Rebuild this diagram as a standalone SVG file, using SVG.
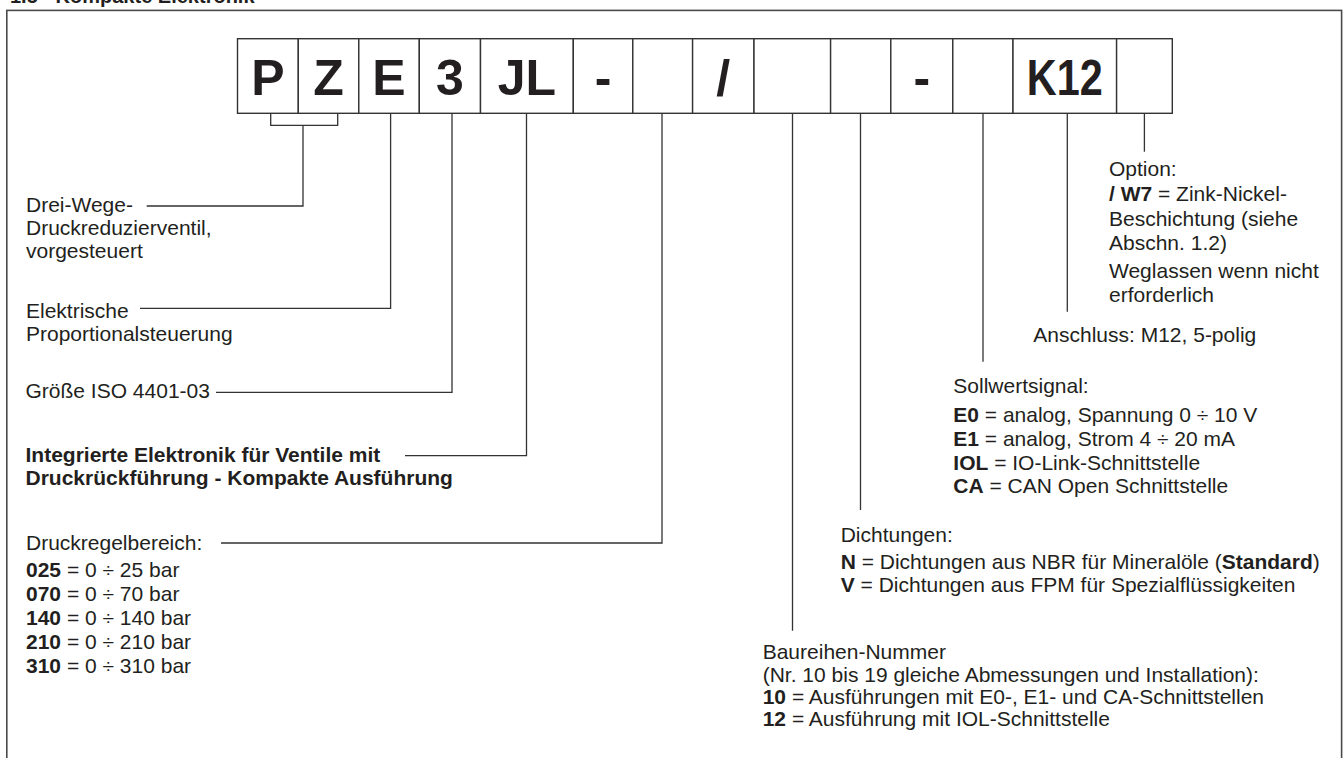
<svg xmlns="http://www.w3.org/2000/svg" width="1344" height="758" viewBox="0 0 1344 758">
<style>
  .bg{fill:#ffffff}
  .frame{fill:none;stroke:#4a4a4a;stroke-width:1.6}
  .box{fill:#ffffff;stroke:#333333;stroke-width:1.4}
  .code{font-family:"Liberation Sans",Arial,sans-serif;font-weight:bold;font-size:50px;fill:#231f20;text-anchor:middle}
  .t{font-family:"Liberation Sans",Arial,sans-serif;font-size:21px;fill:#231f20}
  .b{font-weight:bold}
  .title{font-family:"Liberation Sans",Arial,sans-serif;font-size:20px;font-weight:bold;fill:#231f20}
  .conn{fill:none;stroke:#333333;stroke-width:1.3}
</style>
<rect class="bg" x="0" y="0" width="1344" height="758"/>
<text class="title" x="10" y="3">1.5 - Kompakte Elektronik</text>
<rect class="frame" x="6.8" y="10.4" width="1334.8" height="800"/>

<g id="code-boxes">
  <g id="box-P"><rect class="box" x="237.5" y="38.7" width="60.8" height="74.6"/><text class="code" x="267.9" y="95">P</text></g>
  <g id="box-Z"><rect class="box" x="298.3" y="38.7" width="60.5" height="74.6"/><text class="code" x="328.5" y="95">Z</text></g>
  <g id="box-E"><rect class="box" x="358.8" y="38.7" width="60.5" height="74.6"/><text class="code" x="389" y="95">E</text></g>
  <g id="box-3"><rect class="box" x="419.3" y="38.7" width="61.2" height="74.6"/><text class="code" x="449.9" y="95">3</text></g>
  <g id="box-JL"><rect class="box" x="480.5" y="38.7" width="92.8" height="74.6"/><text class="code" x="526.9" y="95">JL</text></g>
  <g id="box-dash1"><rect class="box" x="573.3" y="38.7" width="59.5" height="74.6"/><text class="code" x="603" y="95">-</text></g>
  <g id="box-pressure"><rect class="box" x="632.8" y="38.7" width="59.8" height="74.6"/></g>
  <g id="box-slash"><rect class="box" x="692.6" y="38.7" width="61.4" height="74.6"/><text class="code" x="723.3" y="95">/</text></g>
  <g id="box-series"><rect class="box" x="754" y="38.7" width="76.6" height="74.6"/></g>
  <g id="box-seals"><rect class="box" x="830.6" y="38.7" width="60.2" height="74.6"/></g>
  <g id="box-dash2"><rect class="box" x="890.8" y="38.7" width="62" height="74.6"/><text class="code" x="921.8" y="95">-</text></g>
  <g id="box-signal"><rect class="box" x="952.8" y="38.7" width="60.2" height="74.6"/></g>
  <g id="box-K12"><rect class="box" x="1013" y="38.7" width="103.6" height="74.6"/><text class="code" x="1064.8" y="95" textLength="76" lengthAdjust="spacingAndGlyphs">K12</text></g>
  <g id="box-option"><rect class="box" x="1116.6" y="38.7" width="55.7" height="74.6"/></g>
</g>

<g id="connectors">
  <path class="conn" d="M270.7,113.3 V125.3 H337.7 V113.3"/>
  <path class="conn" d="M303,125.3 V206 H146.7"/>
  <path class="conn" d="M390.6,113.3 V308.3 H140"/>
  <path class="conn" d="M452,113.3 V392.3 H216"/>
  <path class="conn" d="M526.5,113.3 V455.7 H405"/>
  <path class="conn" d="M662,113.3 V543 H221"/>
  <path class="conn" d="M792.5,113.3 V630.7"/>
  <path class="conn" d="M860.5,113.3 V510"/>
  <path class="conn" d="M983,113.3 V361.7"/>
  <path class="conn" d="M1067.3,113.3 V311.7"/>
  <path class="conn" d="M1144.4,113.3 V151.7"/>
</g>

<g id="label-valve" class="t">
  <text x="26" y="211.7">Drei-Wege-</text>
  <text x="26" y="235">Druckreduzierventil,</text>
  <text x="26" y="258">vorgesteuert</text>
</g>
<g id="label-control" class="t">
  <text x="26" y="317.7">Elektrische</text>
  <text x="26" y="340.5">Proportionalsteuerung</text>
</g>
<g id="label-size" class="t">
  <text x="25.5" y="398.3">Größe ISO 4401-03</text>
</g>
<g id="label-electronics" class="t b">
  <text x="25.5" y="461.7">Integrierte Elektronik für Ventile mit</text>
  <text x="25.5" y="485">Druckrückführung - Kompakte Ausführung</text>
</g>
<g id="label-pressure" class="t">
  <text x="26" y="550">Druckregelbereich:</text>
  <text x="26" y="577.3"><tspan class="b">025</tspan> = 0 ÷ 25 bar</text>
  <text x="26" y="601.3"><tspan class="b">070</tspan> = 0 ÷ 70 bar</text>
  <text x="26" y="625.3"><tspan class="b">140</tspan> = 0 ÷ 140 bar</text>
  <text x="26" y="649.3"><tspan class="b">210</tspan> = 0 ÷ 210 bar</text>
  <text x="26" y="673.3"><tspan class="b">310</tspan> = 0 ÷ 310 bar</text>
</g>
<g id="label-series" class="t">
  <text x="762.7" y="659.3">Baureihen-Nummer</text>
  <text x="762.7" y="681.7">(Nr. 10 bis 19 gleiche Abmessungen und Installation):</text>
  <text x="762.7" y="704.3"><tspan class="b">10</tspan> = Ausführungen mit E0-, E1- und CA-Schnittstellen</text>
  <text x="762.7" y="726"><tspan class="b">12</tspan> = Ausführung mit IOL-Schnittstelle</text>
</g>
<g id="label-seals" class="t">
  <text x="840.7" y="541.7">Dichtungen:</text>
  <text x="840.7" y="569.3"><tspan class="b">N</tspan> = Dichtungen aus NBR für Mineralöle (<tspan class="b">Standard</tspan>)</text>
  <text x="840.7" y="591.7"><tspan class="b">V</tspan> = Dichtungen aus FPM für Spezialflüssigkeiten</text>
</g>
<g id="label-signal" class="t">
  <text x="953.3" y="393.3">Sollwertsignal:</text>
  <text x="953.3" y="421.7"><tspan class="b">E0</tspan> = analog, Spannung 0 ÷ 10 V</text>
  <text x="953.3" y="445.5"><tspan class="b">E1</tspan> = analog, Strom 4 ÷ 20 mA</text>
  <text x="953.3" y="469.5"><tspan class="b">IOL</tspan> = IO-Link-Schnittstelle</text>
  <text x="953.3" y="493.3"><tspan class="b">CA</tspan> = CAN Open Schnittstelle</text>
</g>
<g id="label-connector" class="t">
  <text x="1033.3" y="342">Anschluss: M12, 5-polig</text>
</g>
<g id="label-option" class="t">
  <text x="1109" y="176">Option:</text>
  <text x="1109" y="200.7"><tspan class="b">/ W7</tspan> = Zink-Nickel-</text>
  <text x="1109" y="225.7">Beschichtung (siehe</text>
  <text x="1109" y="250">Abschn. 1.2)</text>
  <text x="1109" y="278.3">Weglassen wenn nicht</text>
  <text x="1109" y="302.3">erforderlich</text>
</g>
</svg>
